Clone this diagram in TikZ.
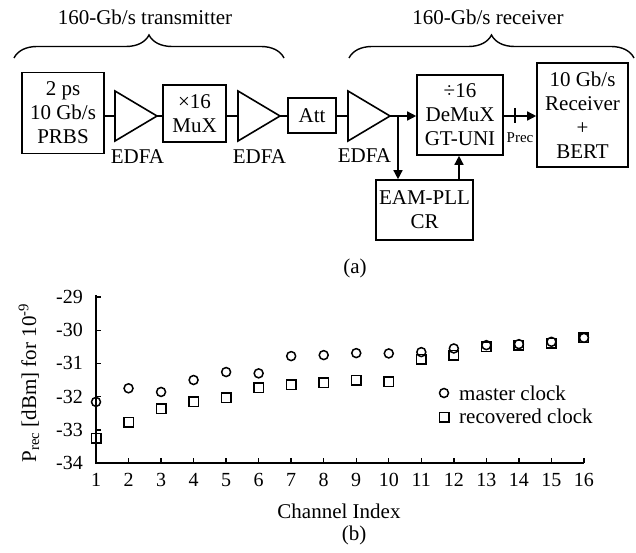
\documentclass[tikz,border=0pt]{standalone}
\usepackage{fontspec}
\setmainfont{Liberation Serif}
\usetikzlibrary{arrows.meta,decorations.pathreplacing}
\begin{document}
\begin{tikzpicture}[x=1pt,y=-1pt,
  blk/.style={draw,line width=1.6pt,inner sep=0pt,align=center,font=\fontsize{21}{24}\selectfont},
  amp/.style={draw,line width=1.6pt,line join=miter},
  wire/.style={line width=1.4pt},
  arr/.style={line width=1.4pt,-{Triangle[length=9pt,width=9pt]}},
  lbl/.style={font=\fontsize{21}{24}\selectfont,inner sep=0pt},
  tick/.style={font=\fontsize{20}{24}\selectfont,inner sep=0pt},
  brc/.style={decorate,decoration={brace,amplitude=23pt},line width=1.4pt},
  mc/.style={draw,circle,line width=1.5pt,minimum size=9pt,inner sep=0pt},
  rc/.style={draw,rectangle,line width=1.5pt,minimum size=9.5pt,inner sep=0pt}]
\useasboundingbox (0,0) rectangle (636,553);
% ---------- block diagram ----------
\node[lbl,anchor=base] (ttx) at (145,25) {160-Gb/s transmitter};
\node[lbl,anchor=base] (trx) at (488,25) {160-Gb/s receiver};
\coordinate (b1a) at (14,58); \coordinate (b1b) at (284,58);
\coordinate (b2a) at (349,58); \coordinate (b2b) at (634,58);
\draw[brc] (b1a) -- (b1b);
\draw[brc] (b2a) -- (b2b);

\node[blk,minimum width=82pt,minimum height=81pt] (prbs) at (63,113) {2 ps\\10 Gb/s\\PRBS};
\node[blk,minimum width=63pt,minimum height=57pt] (mux) at (194.5,113.5) {×16\\MuX};
\node[blk,minimum width=48pt,minimum height=35pt] (att) at (312,115.5) {Att};
\node[blk,minimum width=86pt,minimum height=80pt] (demux) at (460,115) {÷16\\DeMuX\\GT-UNI};
\node[blk,minimum width=91pt,minimum height=104pt] (rx) at (582.5,115) {10 Gb/s\\Receiver\\+\\BERT};
\node[blk,minimum width=97pt,minimum height=60pt] (eam) at (424.5,210) {EAM-PLL\\CR};

% amplifiers
\coordinate (e1i) at (115,116); \coordinate (e1o) at (157,116);
\coordinate (e2i) at (238,116); \coordinate (e2o) at (280,116);
\coordinate (e3i) at (348,116); \coordinate (e3o) at (390,116);
\draw[amp] (e1i) ++(0,-25) -- (e1o) -- ++(-42,25) -- cycle;
\draw[amp] (e2i) ++(0,-25) -- (e2o) -- ++(-42,25) -- cycle;
\draw[amp] (e3i) ++(0,-25) -- (e3o) -- ++(-42,25) -- cycle;
\node[lbl,anchor=base] (l1) at (137.5,164) {EDFA};
\node[lbl,anchor=base] (l2) at (259.5,164) {EDFA};
\node[lbl,anchor=base] (l3) at (364.5,163) {EDFA};

\draw[wire] (prbs.east |- e1i) -- (e1i);
\draw[wire] (e1o) -- (mux.west |- e1o);
\draw[wire] (mux.east |- e2i) -- (e2i);
\draw[wire] (e2o) -- (att.west |- e2o);
\draw[wire] (att.east |- e3i) -- (e3i);
\coordinate (br) at (398,116);
\draw[arr] (e3o) -- (demux.west |- e3o);
\draw[arr] (br) -- (br |- eam.north);
\coordinate (up) at (459,180);
\draw[arr] (up) -- (up |- demux.south);
\coordinate (tk) at (515,116);
\draw[arr] (demux.east |- tk) -- (rx.west |- tk);
\draw[wire] (515,108) -- (515,123);
\node[font=\fontsize{15}{18}\selectfont,inner sep=0pt,anchor=base] (prec) at (520,143) {Prec};
\node[lbl,anchor=center] (capa) at (355,268) {(a)};

% ---------- plot ----------
\def\px#1{96+(#1-1)*32.53}
\def\py#1{463-(#1+34)*33.2}
\coordinate (o) at (96,463);
\coordinate (ytop) at (96,295);
\coordinate (xend) at (584,463);
\draw[line width=1.8pt] (ytop) -- (o) -- (xend);
\foreach \v in {-29,-30,-31,-32,-33,-34}{
  \draw[line width=1.4pt] (96,{\py{\v}}) -- (101,{\py{\v}});
  \node[tick,anchor=east] (yl\v) at (83,{\py{\v}}) {\v};
}
\foreach \i in {1,...,16}{
  \draw[line width=1.4pt] ({\px{\i}},463) -- ({\px{\i}},458);
  \node[tick,anchor=center] (xl\i) at ({\px{\i}},480) {\i};
}
\node[lbl] (xlab) at (339,511) {Channel Index};
\node[lbl,rotate=90] (ylab) at (29,383) {P\textsubscript{rec} [dBm] for 10\textsuperscript{-9}};
\node[lbl] (capb) at (354,535) {(b)};

\foreach \i/\v in {1/-32.16,2/-31.75,3/-31.86,4/-31.5,5/-31.26,6/-31.3,7/-30.78,8/-30.75,9/-30.69,10/-30.7,11/-30.66,12/-30.55,13/-30.45,14/-30.42,15/-30.35,16/-30.23}{
  \node[mc] (m\i) at ({\px{\i}},{\py{\v}}) {};
}
\foreach \i/\v in {1/-33.25,2/-32.77,3/-32.37,4/-32.16,5/-32.04,6/-31.74,7/-31.65,8/-31.59,9/-31.5,10/-31.56,11/-30.87,12/-30.75,13/-30.5,14/-30.45,15/-30.39,16/-30.23}{
  \node[rc] (r\i) at ({\px{\i}},{\py{\v}}) {};
}
\node[mc] (lgm) at (444,393) {};
\node[rc] (lgr) at (444,417) {};
\node[lbl,anchor=base west] (lgmt) at (459,400) {master clock};
\node[lbl,anchor=base west] (lgrt) at (459,423) {recovered clock};
\end{tikzpicture}
\end{document}
